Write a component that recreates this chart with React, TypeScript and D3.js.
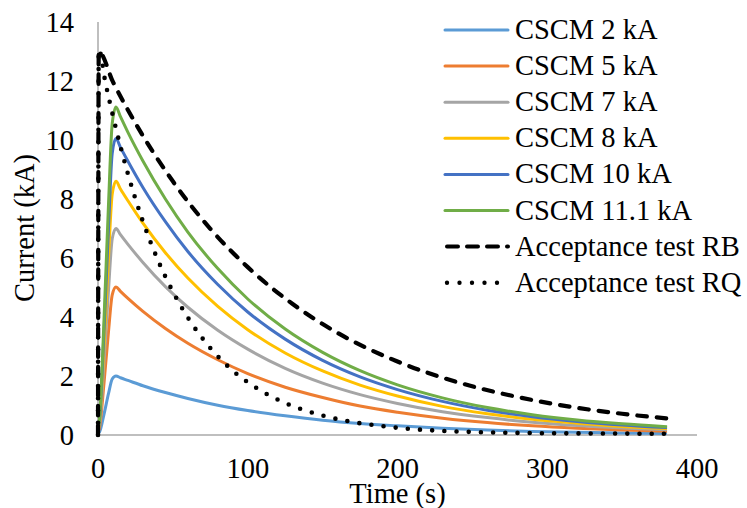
import React from "react";
import * as d3 from "d3";

// ---- data ----
const cscmTime = [0, 1, 4, 7, 9.5, 12, 15, 20, 30, 45, 60, 80, 100, 125, 150, 175, 200, 230, 260, 290, 320, 350, 380];
const cscm2 = [0.05, 0.1, 0.7, 1.4, 1.9, 2.0, 1.94, 1.85, 1.67, 1.44, 1.24, 1.01, 0.83, 0.65, 0.5, 0.39, 0.31, 0.23, 0.17, 0.12, 0.09, 0.07, 0.05];
const cscm5 = [0.1, 0.25, 1.75, 3.5, 4.75, 5.02, 4.87, 4.63, 4.19, 3.61, 3.11, 2.55, 2.08, 1.62, 1.27, 0.98, 0.77, 0.57, 0.42, 0.31, 0.23, 0.17, 0.13];
const cscm7 = [0.14, 0.35, 2.45, 4.9, 6.65, 7.0, 6.79, 6.46, 5.85, 5.03, 4.33, 3.55, 2.91, 2.26, 1.76, 1.37, 1.07, 0.79, 0.59, 0.43, 0.32, 0.24, 0.18];
const cscm8 = [0.17, 0.43, 3.0, 6.0, 8.17, 8.6, 8.34, 7.94, 7.18, 6.18, 5.32, 4.36, 3.57, 2.78, 2.17, 1.69, 1.32, 0.97, 0.72, 0.53, 0.4, 0.29, 0.22];
const cscm10 = [0.2, 0.5, 3.5, 7.0, 9.55, 10.05, 9.75, 9.28, 8.39, 7.23, 6.22, 5.1, 4.17, 3.25, 2.53, 1.97, 1.54, 1.14, 0.84, 0.62, 0.46, 0.34, 0.25];
const cscm111 = [0.2, 0.55, 3.9, 7.8, 10.56, 11.12, 10.79, 10.26, 9.29, 8.0, 6.88, 5.64, 4.61, 3.59, 2.8, 2.18, 1.7, 1.26, 0.93, 0.69, 0.51, 0.38, 0.28];

const rbTime = [0, 0.5, 10, 25, 50, 75, 100, 130, 160, 200, 240, 280, 320, 350, 380];
const rbValues = [0, 13.0, 11.97, 10.57, 8.6, 6.99, 5.69, 4.44, 3.46, 2.49, 1.79, 1.29, 0.92, 0.72, 0.56];

const rqTime = [0, 0.5, 5, 10, 15, 20, 30, 40, 50, 60, 75, 90, 105, 120, 135, 150, 170, 190, 210, 240, 270, 300, 340, 380];
const rqValues = [0, 13.07, 11.94, 10.81, 9.78, 8.85, 7.24, 5.93, 4.86, 3.98, 2.95, 2.18, 1.62, 1.2, 0.89, 0.66, 0.44, 0.3, 0.2, 0.12, 0.08, 0.06, 0.05, 0.04];

const xTicks = [0, 100, 200, 300, 400];
const yTicks = [0, 2, 4, 6, 8, 10, 12, 14];

const seriesNames = [
  "CSCM 2 kA",
  "CSCM 5 kA",
  "CSCM 7 kA",
  "CSCM 8 kA",
  "CSCM 10 kA",
  "CSCM 11.1 kA",
  "Acceptance test RB",
  "Acceptance test RQ",
];

type Style = { color: string; width: number; dash?: string; cap?: string };

const styles: Style[] = [
  { color: "#5B9BD5", width: 3 },
  { color: "#ED7D31", width: 3 },
  { color: "#A5A5A5", width: 3 },
  { color: "#FFC000", width: 3 },
  { color: "#4472C4", width: 3 },
  { color: "#70AD47", width: 3 },
  { color: "#000000", width: 4.2, dash: "9.5 10", cap: "round" },
  { color: "#000000", width: 4.6, dash: "0 12.2", cap: "round" },
];

const W = 747;
const H = 508;
const FS = 28.5;
const textStyle: React.CSSProperties = { fontFamily: "Liberation Serif", fontSize: FS };

export default function App() {
  const x = d3.scaleLinear().domain([0, 400]).range([98, 697]);
  const y = d3.scaleLinear().domain([0, 14]).range([435, 22]);

  const mk = (ts: number[], vs: number[]) => ts.map((t, i) => [t, vs[i]] as [number, number]);
  const series = [
    mk(cscmTime, cscm2),
    mk(cscmTime, cscm5),
    mk(cscmTime, cscm7),
    mk(cscmTime, cscm8),
    mk(cscmTime, cscm10),
    mk(cscmTime, cscm111),
    mk(rbTime, rbValues),
    mk(rqTime, rqValues),
  ];

  const line = d3
    .line<[number, number]>()
    .x((d) => x(d[0]))
    .y((d) => y(d[1]))
    .curve(d3.curveMonotoneX);

  const legendX1 = 445;
  const legendX2 = 508;
  const legendTextX = 515;
  const legendY0 = 30;
  const legendStep = 36.1;

  return (
    <div style={{ position: "fixed", left: 0, top: 0 }}>
      <svg width={W} height={H} style={{ display: "block", background: "#fff" }}>
        {/* axes */}
        <line x1={x(0)} x2={x(400)} y1={y(0)} y2={y(0)} stroke="#BFBFBF" strokeWidth={2} />
        <line x1={x(0)} x2={x(0)} y1={y(0)} y2={y(14)} stroke="#BFBFBF" strokeWidth={2} />

        {/* tick labels */}
        {yTicks.map((v) => (
          <text key={"y" + v} x={74} y={y(v) + 9.5} textAnchor="end" style={textStyle} fill="#000">
            {v}
          </text>
        ))}
        {xTicks.map((v) => (
          <text key={"x" + v} x={x(v)} y={478} textAnchor="middle" style={textStyle} fill="#000">
            {v}
          </text>
        ))}

        {/* axis titles */}
        <text x={x(200)} y={503} textAnchor="middle" style={textStyle} fill="#000">
          Time (s)
        </text>
        <text transform={`translate(34,228) rotate(-90)`} textAnchor="middle" style={textStyle} fill="#000">
          Current (kA)
        </text>

        {/* series */}
        {series.map((s, i) => (
          <path
            key={"s" + i}
            d={line(s) || ""}
            fill="none"
            stroke={styles[i].color}
            strokeWidth={styles[i].width}
            strokeDasharray={styles[i].dash}
            strokeLinecap={(styles[i].cap as any) || "butt"}
            strokeLinejoin="round"
          />
        ))}

        {/* legend */}
        {seriesNames.map((name, i) => {
          const cy = legendY0 + i * legendStep;
          const st = styles[i];
          return (
            <g key={"l" + i}>
              <line
                x1={legendX1 + (st.cap ? 2 : 0)}
                x2={legendX2}
                y1={cy}
                y2={cy}
                stroke={st.color}
                strokeWidth={st.dash ? st.width * 0.95 : 3}
                strokeDasharray={i === 7 ? "0 12.5" : st.dash ? "11 9" : undefined}
                strokeLinecap={(st.cap as any) || "round"}
              />
              <text x={legendTextX} y={cy + 9} style={textStyle} fill="#000">
                {name}
              </text>
            </g>
          );
        })}
      </svg>
    </div>
  );
}
